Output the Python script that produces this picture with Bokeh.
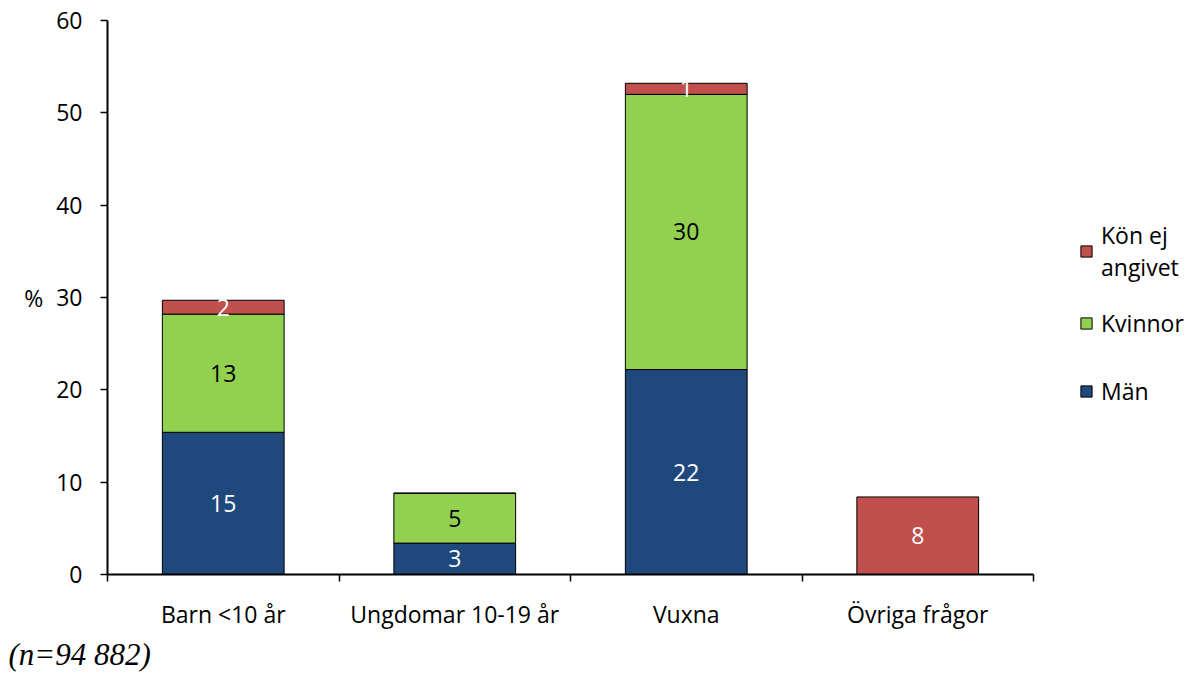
from bokeh.plotting import figure
from bokeh.models import (ColumnDataSource, FixedTicker, Legend, LegendItem, Range1d, Title)
from bokeh.core.properties import value
from bokeh.embed import file_html
from bokeh.resources import INLINE

categories = ["Barn <10 år", "Ungdomar 10-19 år", "Vuxna", "Övriga frågor"]
man = [15.4, 3.4, 22.2, 0.0]
kvinnor = [12.8, 5.4, 29.8, 0.0]
kon_ej = [1.5, 0.0, 1.2, 8.4]
y_ticks = [0, 10, 20, 30, 40, 50, 60]

series = ["man", "kvinnor", "kon_ej"]
names = {"man": "Män", "kvinnor": "Kvinnor", "kon_ej": "Kön ej\nangivet"}
colors = {"man": "#1F497D", "kvinnor": "#92D050", "kon_ej": "#C0504D"}
label_colors = {"man": "white", "kvinnor": "black", "kon_ej": "white"}

xs = [i + 0.5 for i in range(len(categories))]
data = dict(x=xs, man=man, kvinnor=kvinnor, kon_ej=kon_ej)
src = ColumnDataSource(data)

FONT = "Open Sans"
FS = "23px"

p = figure(frame_width=926, frame_height=554, output_backend="svg", toolbar_location=None,
           x_range=Range1d(0, 4), y_range=Range1d(0, 60),
           min_border_left=107, min_border_top=20, min_border_bottom=0,
           min_border_right=0)
p.outline_line_color = None
p.grid.grid_line_color = None
p.background_fill_color = "white"

renderers = p.vbar_stack(series, x="x", width=0.526, source=src,
                         color=[colors[s] for s in series],
                         line_color="black", line_width=1)

# segment labels
bottoms = [0.0] * len(categories)
lx, ly, lt, lc = [], [], [], []
for s in series:
    vals = data[s]
    for i, v in enumerate(vals):
        if v > 0:
            lx.append(xs[i])
            ly.append(bottoms[i] + v / 2)
            lt.append(f"{v:.0f}")
            lc.append(label_colors[s])
        bottoms[i] += v
p.text(x=lx, y=ly, text=lt, text_color=lc, text_align="center",
       text_baseline="middle", text_font=value(FONT), text_font_size=FS)

# axes
p.xaxis.ticker = FixedTicker(ticks=xs, minor_ticks=list(range(len(categories) + 1)))
p.xaxis.major_label_overrides = {x: c for x, c in zip(xs, categories)}
p.xaxis.major_tick_out = 0
p.xaxis.major_tick_in = 0
p.xaxis.minor_tick_out = 7
p.xaxis.minor_tick_in = 0
p.xaxis.minor_tick_line_color = "black"
p.xaxis.minor_tick_line_width = 1.5
p.xaxis.major_label_standoff = 16
p.xaxis.axis_line_width = 2
p.xaxis.axis_line_color = "black"
p.xaxis.major_label_text_font = FONT
p.xaxis.major_label_text_font_size = FS
p.xaxis.major_label_text_color = "black"

p.yaxis.ticker = FixedTicker(ticks=y_ticks)
p.yaxis.major_tick_out = 7
p.yaxis.major_tick_in = 0
p.yaxis.minor_tick_out = 0
p.yaxis.minor_tick_in = 0
p.yaxis.major_tick_line_width = 1.5
p.yaxis.major_tick_line_color = "black"
p.yaxis.axis_line_width = 2
p.yaxis.axis_line_color = "black"
p.yaxis.major_label_standoff = 18
p.yaxis.major_label_text_font = FONT
p.yaxis.major_label_text_font_size = FS
p.yaxis.major_label_text_color = "black"
p.yaxis.axis_label = "%"
p.yaxis.axis_label_orientation = "horizontal"
p.yaxis.axis_label_text_font = FONT
p.yaxis.axis_label_text_font_size = FS
p.yaxis.axis_label_text_font_style = "normal"
p.yaxis.axis_label_text_color = "black"
p.yaxis.axis_label_standoff = 10

note = Title(text="(n=94 882)", align="left", offset=-99, standoff=4,
             text_font="Liberation Serif", text_font_style="italic",
             text_font_size="31px", text_color="black")
p.add_layout(note, "below")

items = [LegendItem(label=names[s], renderers=[r]) for s, r in zip(series, renderers)]
legend = Legend(items=list(reversed(items)), location=(46, 155),
                border_line_color=None, background_fill_alpha=0,
                label_text_font=FONT, label_text_font_size=FS,
                label_text_color="black", label_text_line_height=0.8,
                label_height=56, glyph_width=14, glyph_height=14,
                spacing=12, label_standoff=8, padding=0, margin=0)
p.add_layout(legend, "right")

open("out.html", "w").write(file_html(p, INLINE))
